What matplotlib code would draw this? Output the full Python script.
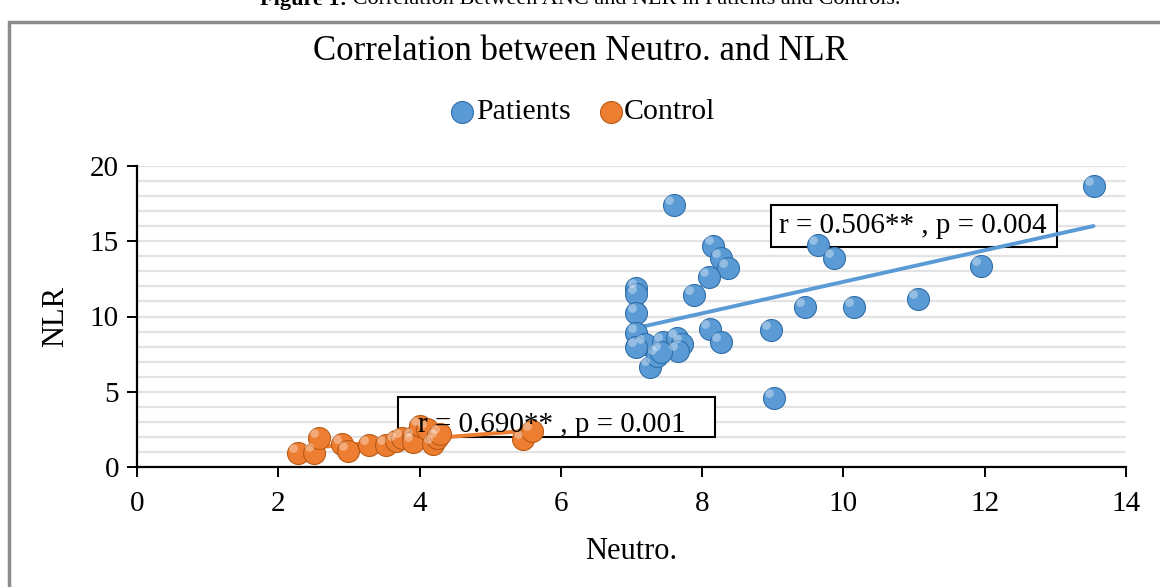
import numpy as np
import matplotlib
matplotlib.use("Agg")
import matplotlib.pyplot as plt
from matplotlib.patches import Rectangle

plt.rcParams['font.family'] = ['Liberation Serif', 'DejaVu Serif']

# ---- data ----
patients_x = [7.60, 8.16, 8.26, 8.37, 8.10, 7.89, 7.07, 7.07, 7.07, 7.07, 7.19, 7.07,
              7.26, 7.45, 7.64, 7.72, 7.66, 7.36, 7.42, 8.11, 8.26, 8.97, 9.02, 9.46,
              10.15, 9.64, 9.86, 11.06, 11.95, 13.54]
patients_y = [17.4, 14.7, 13.9, 13.2, 12.6, 11.4, 11.9, 11.5, 10.2, 8.9, 8.15, 7.95,
              6.66, 8.3, 8.55, 8.2, 7.7, 7.4, 7.66, 9.17, 8.3, 9.1, 4.6, 10.6,
              10.6, 14.75, 13.87, 11.14, 13.36, 18.67]
control_x = [2.28, 2.50, 2.58, 2.90, 2.99, 3.29, 3.53, 3.67, 3.75, 3.91, 3.91, 4.00,
             4.10, 4.19, 4.25, 4.29, 5.47, 5.59]
control_y = [0.9, 0.95, 1.9, 1.5, 1.05, 1.45, 1.45, 1.7, 1.9, 2.0, 1.65, 2.7,
             2.5, 1.5, 1.9, 2.2, 1.85, 2.4]
series_names = ["Patients", "Control"]
patients_label = "r = 0.506** , p = 0.004"
control_label = "r = 0.690** , p = 0.001"
title = "Correlation between Neutro. and NLR"
caption_bold = "Figure 1:"
caption_rest = " Correlation Between ANC and NLR in Patients and Controls."
x_ticks = [0, 2, 4, 6, 8, 10, 12, 14]
y_ticks = [0, 5, 10, 15, 20]

blue = "#5B9BD5"
blue_edge = "#2F6EAA"
orange = "#ED7D31"
orange_edge = "#B85A14"

W, H = 1160, 587
fig = plt.figure(figsize=(W / 100, H / 100), dpi=100)

# outer grey frame
fig.patches.append(Rectangle((9 / W, -0.1), 1.2, 1 - 22 / H + 0.1, transform=fig.transFigure,
                             fill=False, edgecolor="#8c8c8c", linewidth=2.5))

# clipped caption at top (bold prefix + regular rest), centred as a whole
cap_y = 1 + 0 / H
t1 = fig.text(0, cap_y, caption_bold, ha="left", va="center", fontsize=16, fontweight="bold")
t2 = fig.text(0, cap_y, caption_rest, ha="left", va="center", fontsize=16)
renderer = fig.canvas.get_renderer()
w1 = t1.get_window_extent(renderer).width
w2 = t2.get_window_extent(renderer).width
x0 = (W - (w1 + w2)) / 2
t1.set_x(x0 / W)
t2.set_x((x0 + w1) / W)

ax = fig.add_axes([137 / W, 1 - 467 / H, (1126 - 137) / W, (467 - 166) / H])
ax.set_xlim(0, 14)
ax.set_ylim(0, 20)
ax.set_xticks(x_ticks)
ax.set_yticks(y_ticks)
ax.set_yticks(np.arange(0, 21, 1), minor=True)
ax.tick_params(axis="both", which="major", direction="out", length=7, width=1.4,
               labelsize=21)
ax.tick_params(axis="x", which="major", pad=10)
ax.tick_params(axis="y", which="major", pad=6)
ax.tick_params(axis="y", which="minor", length=0)
ax.tick_params(axis="x", which="minor", length=0)
ax.grid(axis="y", which="both", color="#e3e3e3", linewidth=1.6, zorder=0)
for s in ["top", "right"]:
    ax.spines[s].set_visible(False)
for s in ["left", "bottom"]:
    ax.spines[s].set_linewidth(1.6)
    ax.spines[s].set_zorder(5)

ax.set_xlabel("Neutro.", fontsize=22, labelpad=15)
ax.set_ylabel("NLR", fontsize=22, labelpad=14)

# annotation boxes
ax.add_patch(Rectangle((8.975, 14.62), 4.05, 2.79, facecolor="white", edgecolor="black",
                       linewidth=1.5, zorder=2))
ax.add_patch(Rectangle((3.69, 2.01), 4.49, 2.66, facecolor="white", edgecolor="black",
                       linewidth=1.5, zorder=2))

# scatter points
sz = 250
ax.scatter(patients_x, patients_y, s=sz, color=blue, edgecolors=blue_edge, linewidths=0.8,
           zorder=4, label=series_names[0])
ax.scatter(control_x, control_y, s=sz, color=orange, edgecolors=orange_edge, linewidths=0.8,
           zorder=4, label=series_names[1])
# highlights for 3D look
ax.scatter(np.array(patients_x) - 0.07, np.array(patients_y) + 0.35, s=40, color="white",
           alpha=0.35, linewidths=0, zorder=4.5)
ax.scatter(np.array(control_x) - 0.07, np.array(control_y) + 0.35, s=40, color="white",
           alpha=0.35, linewidths=0, zorder=4.5)

# trend lines
for xs, ys, c in [(patients_x, patients_y, blue), (control_x, control_y, orange)]:
    k, b = np.polyfit(xs, ys, 1)
    xx = np.array([min(xs), max(xs)])
    ax.plot(xx, k * xx + b, color=c, linewidth=2.8, zorder=3.5, solid_capstyle="round")

ax.text(10.98, 16.0, patients_label, ha="center", va="center", fontsize=21, zorder=6)
ax.text(5.87, 2.8, control_label, ha="center", va="center", fontsize=21, zorder=6)

fig.text(0.5, 1 - 51 / H, title, ha="center", va="center", fontsize=25)

leg = fig.legend(loc="center", bbox_to_anchor=(0.5, 1 - 112 / H), ncol=2, frameon=False,
                 fontsize=21.5, handletextpad=-0.15, columnspacing=0.75, markerscale=1.0,
                 handlelength=1.2)

fig.savefig("out.png", dpi=100)
